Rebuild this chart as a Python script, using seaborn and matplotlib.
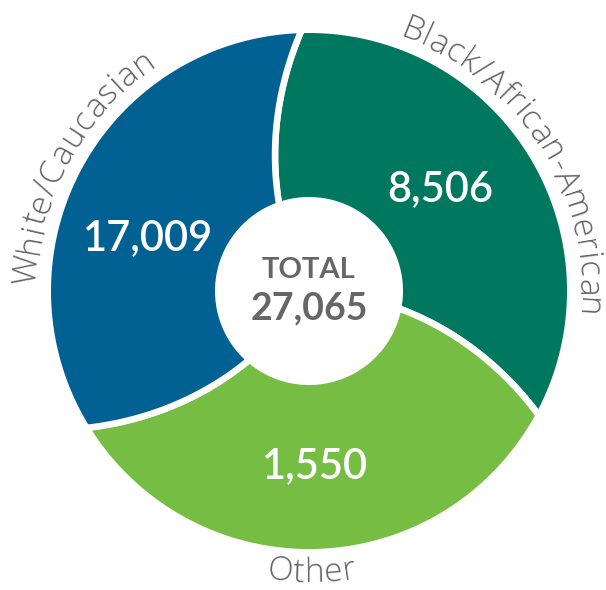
import numpy as np
import matplotlib
matplotlib.use("Agg")
import matplotlib.pyplot as plt
import seaborn as sns
from matplotlib.font_manager import FontProperties

# segments listed clockwise, starting at the divider near 12 o'clock
categories = ["Black/African-American", "Other", "White/Caucasian"]
counts = [8506, 1550, 17009]
# the graphic splits the ring into equal thirds, whatever the counts are
ring_shares = [1, 1, 1]
total_label = "27,065"
colors = ["#00785F", "#76BE43", "#006192"]

W, H = 606, 590
sns.set_theme(style="white")
plt.rcParams["font.family"] = ["Lato", "DejaVu Sans"]

fig = plt.figure(figsize=(W / 100, H / 100), dpi=100)
ax = fig.add_axes([0, 0, 1, 1])
ax.set_xlim(0, W)
ax.set_ylim(0, H)
ax.set_aspect("equal")
ax.axis("off")

cx, cy = 309, H - 291          # ring centre (y up)
r_out, r_in = 258, 94
gap = 6.5                      # white divider, px
swirl = 17.5                   # how far the dividers bend (deg, inner vs outer)
start = 91.6                   # outer end of the top divider

R, r0 = r_out + gap / 2, r_in - gap / 2


def divider_angle(theta_outer, r):
    return theta_outer + swirl * (R - r) / (R - r0)


def pol(theta_deg, r):
    t = np.radians(theta_deg)
    return cx + r * np.cos(t), cy + r * np.sin(t)


fracs = np.array(ring_shares, dtype=float) / sum(ring_shares)
edges = start - 360 * np.concatenate([[0], np.cumsum(fracs)])

for i, color in enumerate(colors):
    a, b = edges[i], edges[i + 1]
    rs = np.linspace(R, r0, 60)
    th = np.concatenate([
        np.linspace(a, b, 240),
        divider_angle(b, rs),
        np.linspace(divider_angle(b, r0), divider_angle(a, r0), 120),
        divider_angle(a, rs[::-1]),
    ])
    rr = np.concatenate([np.full(240, R), rs, np.full(120, r0), rs[::-1]])
    x, y = pol(th, rr)
    ax.fill(x, y, facecolor=color, edgecolor="white", linewidth=gap * 0.72,
            joinstyle="round")

fig.canvas.draw()
renderer = fig.canvas.get_renderer()
label_font = FontProperties(family=["Open Sans", "DejaVu Sans"], weight="light", size=24)


def arc_text(text, r, mid, span, outward=True, color="#636466"):
    """Lay text out along a circle, stretched to cover `span` degrees."""
    def width(s):
        if not s:
            return 0.0
        return renderer.get_text_width_height_descent(s, label_font, ismath=False)[0]

    natural = width(text)
    target = np.radians(span) * r
    track = (target - natural) / max(len(text) - 1, 1)
    for i, ch in enumerate(text):
        s = (width(text[:i]) + width(text[:i + 1])) / 2 + i * track
        s -= (natural + track * (len(text) - 1)) / 2
        if outward:
            th = mid - np.degrees(s / r)
            rot = th - 90
        else:
            th = mid + np.degrees(s / r)
            rot = th + 90
        x, y = pol(th, r)
        ax.text(x, y, ch, fontproperties=label_font, color=color, rotation=rot,
                rotation_mode="anchor", ha="center", va="baseline")


arc_text(categories[0], 270, 32.5, 76)
arc_text(categories[2], 273, 151.3, 55)
arc_text(categories[1], 291, 270.6, 17.9, outward=False)

# counts inside the segments
value_pos = [(440, 189), (315, 466), (148, 238)]
for (px, py), n in zip(value_pos, counts):
    ax.text(px, H - py, f"{n:,}", ha="center", va="center", color="white",
            fontsize=30, fontweight="semibold")

ax.text(cx, H - 270, "TOTAL", ha="center", va="center", color="#666666",
        fontsize=21, fontweight="bold")
ax.text(cx, H - 308, total_label, ha="center", va="center", color="#666666",
        fontsize=27, fontweight="bold")

fig.savefig("out.png", dpi=100, facecolor="white")
